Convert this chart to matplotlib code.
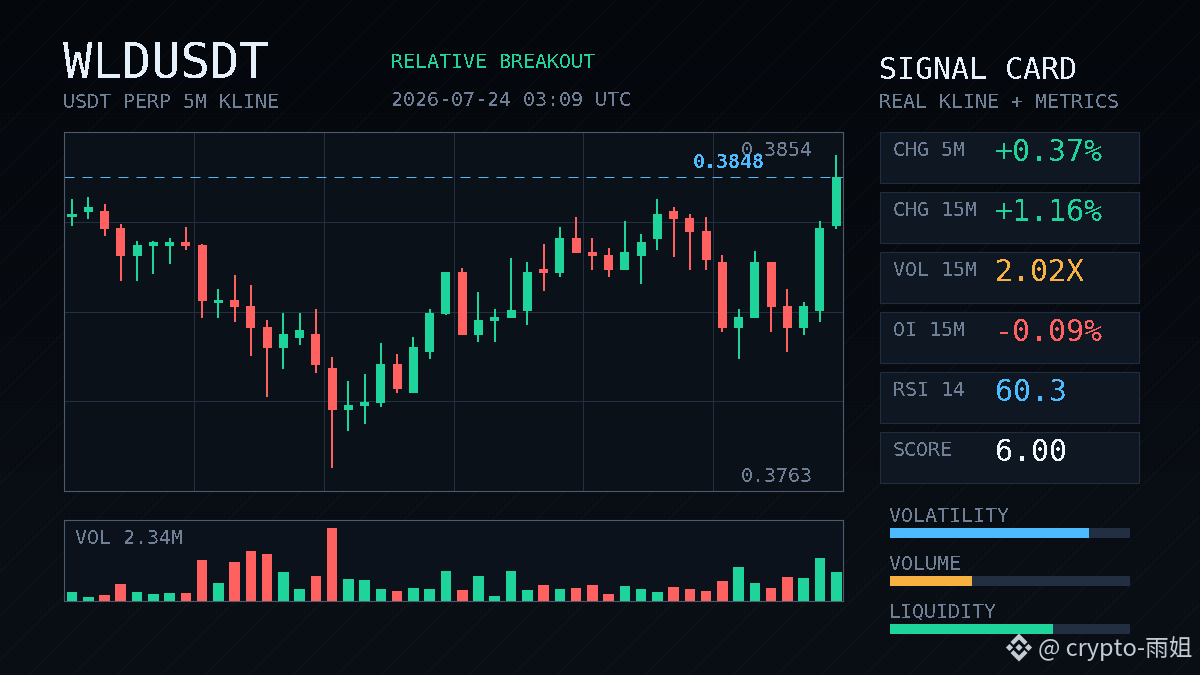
import numpy as np
import matplotlib
matplotlib.use("Agg")
import matplotlib.pyplot as plt
from matplotlib.patches import Rectangle, Polygon

# kline data
opens = [0.38362, 0.38377, 0.38380, 0.38330, 0.38248, 0.38277, 0.38277, 0.38289,
         0.38280, 0.38111, 0.38120, 0.38102, 0.38041, 0.37980, 0.38009, 0.38021,
         0.37922, 0.37799, 0.37811, 0.37820, 0.37933, 0.37849, 0.37968, 0.38079,
         0.38202, 0.38018, 0.38059, 0.38067, 0.38088, 0.38210, 0.38199, 0.38301,
         0.38260, 0.38251, 0.38207, 0.38248, 0.38298, 0.38380, 0.38359, 0.38321,
         0.38231, 0.38038, 0.38067, 0.38231, 0.38102, 0.38038, 0.38088, 0.38336]
highs = [0.38412, 0.38420, 0.38400, 0.38342, 0.38292, 0.38292, 0.38301, 0.38333,
         0.38283, 0.38152, 0.38193, 0.38164, 0.38062, 0.38082, 0.38082, 0.38094,
         0.37954, 0.37884, 0.37904, 0.37995, 0.37962, 0.38012, 0.38094, 0.38202,
         0.38213, 0.38143, 0.38094, 0.38242, 0.38231, 0.38283, 0.38333, 0.38362,
         0.38301, 0.38272, 0.38350, 0.38312, 0.38412, 0.38391, 0.38371, 0.38362,
         0.38251, 0.38094, 0.38263, 0.38231, 0.38152, 0.38114, 0.38350, 0.38540]
lows = [0.38336, 0.38356, 0.38307, 0.38175, 0.38175, 0.38196, 0.38225, 0.38266,
        0.38067, 0.38067, 0.38056, 0.37957, 0.37837, 0.37919, 0.37989, 0.37907,
        0.37630, 0.37738, 0.37758, 0.37808, 0.37849, 0.37849, 0.37948, 0.38076,
        0.38018, 0.37997, 0.37997, 0.38067, 0.38047, 0.38146, 0.38187, 0.38257,
        0.38207, 0.38187, 0.38207, 0.38167, 0.38266, 0.38245, 0.38207, 0.38207,
        0.38027, 0.37948, 0.38067, 0.38027, 0.37968, 0.38018, 0.38056, 0.38327]
closes = [0.38371, 0.38391, 0.38327, 0.38248, 0.38280, 0.38289, 0.38289, 0.38277,
          0.38117, 0.38120, 0.38100, 0.38038, 0.37980, 0.38021, 0.38032, 0.37930,
          0.37799, 0.37814, 0.37822, 0.37933, 0.37860, 0.37983, 0.38082, 0.38202,
          0.38018, 0.38062, 0.38070, 0.38091, 0.38202, 0.38199, 0.38301, 0.38257,
          0.38248, 0.38207, 0.38260, 0.38289, 0.38371, 0.38356, 0.38318, 0.38237,
          0.38038, 0.38070, 0.38231, 0.38100, 0.38038, 0.38102, 0.38330, 0.38477]
# relative volume, no scale shown in the picture
volumes = [9, 4, 6, 17, 9, 7, 8, 8, 41, 18, 39, 50, 47, 29, 12, 25,
           73, 22, 21, 12, 10, 13, 12, 30, 11, 25, 5, 30, 11, 16, 12, 13,
           16, 7, 15, 12, 9, 14, 12, 10, 20, 34, 18, 13, 24, 23, 43, 29]
last_price = 0.3848

card_labels = ["CHG 5M", "CHG 15M", "VOL 15M", "OI 15M", "RSI 14", "SCORE"]
card_values = ["+0.37%", "+1.16%", "2.02X", "-0.09%", "60.3", "6.00"]
gauge_labels = ["VOLATILITY", "VOLUME", "LIQUIDITY"]
gauge_values = [0.83, 0.342, 0.68]

GREEN = "#1fd49b"
RED = "#ff6161"
AMBER = "#f7b140"
BLUE = "#4dbcff"
WHITE = "#e6f0fb"
MUTED = "#6f7f96"
MONO = "DejaVu Sans Mono"

card_colors = [GREEN, GREEN, AMBER, RED, BLUE, "#f2f7fd"]
gauge_colors = [BLUE, AMBER, GREEN]

W, H = 1200, 675
fig = plt.figure(figsize=(12, 6.75), dpi=100)


def px_axes(x0, y0, x1, y1, z):
    # axes placed by pixel box, y measured from the top
    return fig.add_axes([x0 / W, 1 - y1 / H, (x1 - x0) / W, (y1 - y0) / H], zorder=z)


# background: vertical gradient, faint dot texture, diagonal hairlines
bg = px_axes(0, 0, W, H, 0)
bg.axis("off")
top_col = np.array([4, 7, 12]) / 255
bot_col = np.array([10, 15, 22]) / 255
grad = np.linspace(0, 1, H).reshape(-1, 1, 1)
img = np.tile(top_col + (bot_col - top_col) * grad, (1, W, 1))
dots = np.zeros((H, W), dtype=bool)
dots[113:620:4, ::4] = True
img[dots] += 6 / 255
bg.imshow(img, extent=[0, W, H, 0], aspect="auto", interpolation="nearest")
for start in range(0, W + H, 44):
    bg.plot([start, start - H], [0, H], color="#ffffff", alpha=0.035, lw=0.7)
bg.set_xlim(0, W)
bg.set_ylim(H, 0)

# candle panel
ax = px_axes(64.1, 132.1, 843.1, 491.1, 1)
xs = np.arange(len(opens))
x_lo, x_hi = (64.1 - 72) / 16.26, (843.1 - 72) / 16.26
ax.set_xlim(x_lo, x_hi)
ax.set_ylim(0.37564, 0.38608)
ax.set_facecolor("#0b1119")
ax.set_xticks([])
ax.set_yticks([])
for s in ax.spines.values():
    s.set_color("#4c5a70")
    s.set_linewidth(0.8)
for k in range(1, 6):
    ax.plot([k / 6, k / 6], [0, 1], transform=ax.transAxes, color="#242f42", lw=0.75, zorder=1)
for k in range(1, 4):
    ax.plot([0, 1], [k / 4, k / 4], transform=ax.transAxes, color="#242f42", lw=0.75, zorder=1)
ax.axhline(closes[-1], color="#58b6ee", lw=0.72, dashes=(10, 8), zorder=2)

colors = [GREEN if c >= o else RED for o, c in zip(opens, closes)]
ax.vlines(xs, lows, highs, colors=colors, lw=1.44, zorder=3, capstyle="butt")
bottoms = np.minimum(opens, closes)
heights = np.abs(np.array(closes) - np.array(opens))
ax.bar(xs, heights, bottom=bottoms, width=0.555, color=colors, zorder=4, lw=0)

# volume panel
vax = px_axes(64.1, 520.1, 843.1, 601.1, 1)
vax.set_xlim(x_lo, x_hi)
vax.set_ylim(0, 81)
vax.set_facecolor("#0c121b")
vax.set_xticks([])
vax.set_yticks([])
for s in vax.spines.values():
    s.set_color("#4c5a70")
    s.set_linewidth(0.8)
vax.bar(xs, volumes, width=0.65, color=colors, lw=0, zorder=3)

# overlay for cards and text
ov = px_axes(0, 0, W, H, 3)
ov.set_xlim(0, W)
ov.set_ylim(H, 0)
ov.axis("off")
ov.patch.set_alpha(0)


def label(x, y, s, size=14.4, color=MUTED, ha="left", weight="normal"):
    # y is the middle of the capitals
    base = y + 0.729 * size / 0.72 / 2
    ov.text(x, base, s, fontsize=size, color=color, ha=ha, va="baseline",
            family=MONO, weight=weight, antialiased=False)


label(63, 60.5, "WLDUSDT", size=35.2, color=WHITE)
label(63, 101, "USDT PERP 5M KLINE")
label(391, 61, "RELATIVE BREAKOUT", color=GREEN)
label(391, 99, "2026-07-24 03:09 UTC")
label(879, 68.5, "SIGNAL CARD", size=21.5, color=WHITE)
label(879, 100.5, "REAL KLINE + METRICS")
label(813, 149, "%.4f" % highs[-1], ha="right")
label(765, 160.5, "%.4f" % last_price, color=BLUE, ha="right", weight="bold")
label(813, 475, "%.4f" % min(lows), ha="right")
label(75, 537, "VOL 2.34M")

for i, (name, val, col) in enumerate(zip(card_labels, card_values, card_colors)):
    top = 132 + 60 * i
    ov.add_patch(Rectangle((880, top), 259, 51, fc="#0f1722", ec="#212d40", lw=0.8))
    label(893, top + 17, name)
    label(995, top + 18.5, val, size=21.5, color=col)

for i, (name, val, col) in enumerate(zip(gauge_labels, gauge_values, gauge_colors)):
    top = 528 + 48 * i
    label(889, top - 13.5, name)
    gax = px_axes(890, top, 1130, top + 10, 2)
    gax.set_xlim(0, 1)
    gax.axis("off")
    gax.barh([0], [1], height=1, color="#222f42", lw=0)
    gax.barh([0], [val], height=1, color=col, lw=0)
    gax.set_ylim(-0.5, 0.5)

# watermark
WM = "#c3ccd4"
cx, cy, r = 1019, 647.5, 3.6
for dx, dy in [(-9.5, 0), (9.5, 0), (0, 0)]:
    ov.add_patch(Polygon([(cx + dx - r, cy + dy), (cx + dx, cy + dy - r),
                          (cx + dx + r, cy + dy), (cx + dx, cy + dy + r)], fc=WM, lw=0))
for sgn in (-1, 1):
    ov.add_patch(Polygon([(cx - 8.5, cy + sgn * 5.5), (cx, cy + sgn * 14), (cx + 8.5, cy + sgn * 5.5),
                          (cx + 5.5, cy + sgn * 2.5), (cx, cy + sgn * 8),
                          (cx - 5.5, cy + sgn * 2.5)], fc=WM, lw=0))
ov.text(1038, 649, "@ crypto-雨姐", fontsize=17, color=WM, ha="left", va="center",
        family=["Noto Sans CJK SC", "DejaVu Sans"])

fig.savefig("out.png", dpi=100)
